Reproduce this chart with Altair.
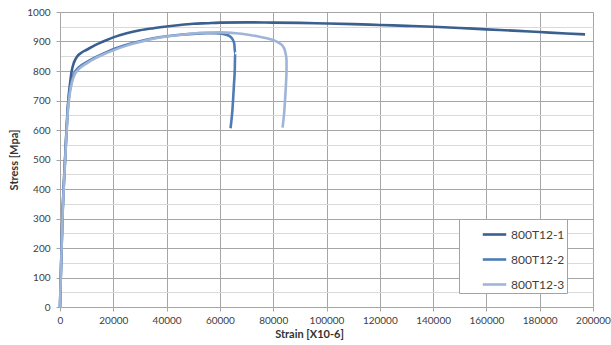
import altair as alt
import pandas as pd

series_names = ["800T12-1", "800T12-2", "800T12-3"]
series_colors = ["#3b5f8f", "#4f7cb6", "#9fb5d8"]

s1_strain = [0, 250, 900, 1900, 3100, 3800, 4400, 5200, 6500, 8000, 10000, 13000, 16000,
             20000, 25000, 30000, 35000, 40000, 45000, 50000, 55000, 60000, 70000, 80000,
             90000, 100000, 110000, 120000, 130000, 140000, 150000, 160000, 170000, 180000,
             190000, 197000]
s1_stress = [0, 90, 300, 500, 700, 760, 800, 828, 850, 862, 872, 887, 899,
             914, 928, 938, 945, 951, 956, 960, 962, 964, 965, 964,
             963, 961, 959, 956, 953, 950, 946, 941, 937, 932,
             927, 924]

s2_strain = [0, 250, 900, 1900, 3100, 3800, 4500, 5500, 7000, 10000, 13000, 16000, 20000,
             25000, 30000, 35000, 40000, 45000, 50000, 55000, 58000, 60000, 62000, 63500,
             64400, 65000, 65400, 65700, 65600, 65300, 65000, 64700, 64300, 64000]
s2_stress = [0, 90, 300, 500, 690, 740, 770, 795, 812, 830, 845, 858, 874,
             889, 901, 911, 918, 923, 926, 928, 928, 927, 924, 919,
             912, 903, 892, 860, 810, 758, 710, 668, 630, 606]

s3_strain = [0, 250, 900, 1900, 3100, 3800, 4500, 5500, 7000, 10000, 13000, 16000, 20000,
             25000, 30000, 35000, 40000, 45000, 50000, 55000, 60000, 66000, 70000, 74000,
             78000, 80000, 82000, 83800, 84600, 85000, 85000, 84800, 84500, 84200, 83800, 83500]
s3_stress = [0, 85, 290, 490, 680, 730, 762, 788, 806, 826, 842, 855, 870,
             886, 898, 909, 917, 922, 927, 930, 931, 928, 924, 918,
             910, 905, 896, 882, 862, 837, 800, 758, 710, 668, 630, 608]

x_ticks = list(range(0, 200001, 20000))
y_ticks = list(range(0, 1001, 50))

rows = []
for name, xs, ys in zip(series_names, [s1_strain, s2_strain, s3_strain],
                        [s1_stress, s2_stress, s3_stress]):
    for i, (x, y) in enumerate(zip(xs, ys)):
        rows.append({"series": name, "strain": x, "stress": y, "idx": i})
df = pd.DataFrame(rows)

font = "Lato"

chart = alt.Chart(df).mark_line(strokeWidth=2.6, interpolate="monotone").encode(
    x=alt.X("strain:Q",
            scale=alt.Scale(domain=[0, 200000], nice=False, zero=True),
            axis=alt.Axis(values=x_ticks, format="d", title="Strain [X10-6]",
                          titleX=249, titleY=27, titleBaseline="middle",
                          gridColor="#a6a6a6", gridWidth=1, domainColor="#a6a6a6",
                          tickColor="#a6a6a6", tickSize=4, labelPadding=4,
                          labelFontSize=10, labelColor="#404040", labelFont=font,
                          titleFont=font, titleFontSize=11, titleFontWeight="bold",
                          titleColor="#333333", labelFlush=False)),
    y=alt.Y("stress:Q",
            scale=alt.Scale(domain=[0, 1000], nice=False),
            axis=alt.Axis(values=y_ticks, format="d", title="Stress [Mpa]",
                          labelExpr="datum.value % 100 === 0 ? datum.label : ''",
                          gridColor=alt.ExprRef(expr="datum.value % 100 === 0 ? '#a6a6a6' : '#d9d9d9'"),
                          tickOpacity=alt.ExprRef(expr="datum.value % 100 === 0 ? 1 : 0"),
                          gridWidth=1, domainColor="#a6a6a6", tickColor="#a6a6a6",
                          tickSize=4, labelPadding=6,
                          labelFontSize=10, labelColor="#404040", labelFont=font,
                          titleFont=font, titleFontSize=11, titleFontWeight="bold",
                          titleColor="#333333", titlePadding=7)),
    color=alt.Color("series:N",
                    scale=alt.Scale(domain=series_names, range=series_colors),
                    legend=alt.Legend(title=None,
                                      orient="none", legendX=399, legendY=207,
                                      symbolType="stroke", symbolSize=550,
                                      symbolStrokeWidth=2.6, symbolOffset=20,
                                      labelFont=font, labelFontSize=12,
                                      labelColor="#404040", labelOffset=3,
                                      rowPadding=5, padding=2,
                                      strokeColor="#8ea6c8", fillColor="white")),
    order=alt.Order("idx:Q"),
).properties(
    width=533, height=295,
    autosize=alt.AutoSizeParams(type="none"),
    padding={"left": 60, "top": 12, "right": 18, "bottom": 38},
).configure_view(stroke=None).configure(background="white")

chart.save("out.html", embed_options={"renderer": "svg", "actions": False})
